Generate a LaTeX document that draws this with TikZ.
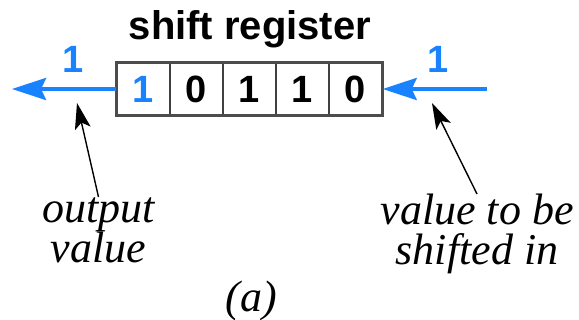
\documentclass[tikz,border=0pt]{standalone}
\usepackage{fontspec}
\newfontfamily\notefont[ItalicFont={Liberation Serif Italic}]{Liberation Serif}
\setsansfont{Liberation Sans}
\usetikzlibrary{arrows.meta}
\definecolor{bitblue}{RGB}{25,130,255}

\begin{document}
\begin{tikzpicture}[x=0.5pt,y=-0.5pt,
	cell/.style={draw=black!75, line width=0.7pt, minimum width=26.5pt, minimum height=26pt, inner sep=0pt, font=\sffamily\bfseries\fontsize{19}{19}\selectfont},
	bitlabel/.style={anchor=base, text=bitblue, font=\sffamily\bfseries\fontsize{19}{19}\selectfont},
	note/.style={anchor=north, inner sep=0pt, align=center, font=\notefont\itshape\fontsize{22}{20}\selectfont},
	shiftarrow/.style={draw=bitblue, line width=2pt, -{Stealth[length=17pt, width=11pt, inset=2.5pt]}},
	pointer/.style={line width=0.7pt, -{Stealth[length=13pt, width=8pt, inset=3pt]}}]
	\useasboundingbox (0,0) rectangle (579,320);
	\draw (250,40) node[anchor=base, font=\sffamily\bfseries\fontsize{20}{20}\selectfont](title) {shift register};
	\draw (143.5,89) node[cell, text=bitblue](b1) {1};
	\draw (196.5,89) node[cell](b2) {0};
	\draw (249.5,89) node[cell](b3) {1};
	\draw (302.5,89) node[cell](b4) {1};
	\draw (355.5,89) node[cell](b5) {0};
	\draw[draw=black!70, line width=1.5pt] (b1.north west) rectangle (b5.south east);
	\coordinate (outend) at (12,89);
	\coordinate (instart) at (487,89);
	\draw[shiftarrow] (b1.west) -- (outend);
	\draw[shiftarrow] (instart) -- (b5.east);
	\draw (73,73) node[bitlabel](outbit) {1};
	\draw (438,73) node[bitlabel](inbit) {1};
	\draw (98.5,197) node[note](outtext) {output\\value};
	\draw (477,194) node[note](intext) {value to be\\shifted in};
	\coordinate (outtip) at (77,103);
	\coordinate (intip) at (432,103);
	\draw[pointer] (outtext.north) -- (outtip);
	\draw[pointer] (intext.north) -- (intip);
	\draw (251,312) node[anchor=base, font=\notefont\itshape\fontsize{22}{22}\selectfont](caption) {(a)};
\end{tikzpicture}
\end{document}
